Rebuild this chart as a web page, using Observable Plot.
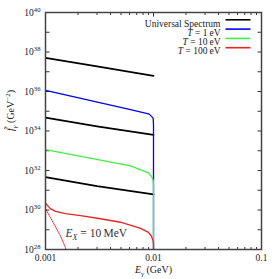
<!DOCTYPE html>
<html><head><meta charset="utf-8">
<script src="https://cdn.jsdelivr.net/npm/d3@7"></script>
<script src="https://cdn.jsdelivr.net/npm/@observablehq/plot@0.6"></script>
<style>html,body{margin:0;padding:0;background:#fff;}</style>
</head><body><div id="chart"></div>
<script>
// ---- tick data ----
const xTicksMajor = [0.001, 0.01, 0.1];
const xTickLabels = ["0.001", "0.01", "0.1"];
const xTicksMinor = [0.002,0.003,0.004,0.005,0.006,0.007,0.008,0.009,0.02,0.03,0.04,0.05,0.06,0.07,0.08,0.09];
const yTicks = [1e28,1e29,1e30,1e31,1e32,1e33,1e34,1e35,1e36,1e37,1e38,1e39,1e40];
const yLabelTicks = [1e28,1e30,1e32,1e34,1e36,1e38,1e40];

// ---- series data (E in GeV, f in GeV^-2) ----
const universalE = [0.001, 0.003, 0.01];
const universalF1 = [5.1e37, 1.86e37, 6.2e36];
const universalF2 = [4.8e34, 1.7e34, 6.3e33];
const universalF3 = [4.6e31, 1.6e31, 6.2e30];

const blueE = [0.001, 0.00612, 0.00899, 0.00938, 0.00968, 0.00993, 0.01, 0.01];
const blueF = [1.14e36, 1.2e35, 7.4e34, 6.2e34, 5.2e34, 4.4e34, 2.0e34, 1e26];

const greenE = [0.001, 0.00612, 0.00899, 0.00938, 0.00968, 0.00993, 0.01, 0.01];
const greenF = [1.14e33, 1.7e32, 7.6e31, 5.75e31, 4.5e31, 3.2e31, 2.0e31, 1e26];

const redE = [0.001, 0.00111, 0.00124, 0.00153, 0.00211, 0.00323, 0.00494, 0.00759, 0.00899, 0.00957, 0.00989, 0.01, 0.01];
const redF = [2.2e30, 1.17e30, 8.5e29, 6.6e29, 5.2e29, 3.6e29, 2.4e29, 1.17e29, 7.4e28, 4.7e28, 2.9e28, 2.0e28, 1e26];

const dotE = [0.001, 0.00111, 0.00124, 0.00138, 0.00153, 0.00157];
const dotF = [1.17e30, 4.2e29, 1.38e29, 4.7e28, 1.26e28, 6.3e27];

const legendLabels = ["Universal Spectrum", "T = 1 eV", "T = 10 eV", "T = 100 eV"];
const legendColors = ["#000000", "#0000ff", "#44ee44", "#ee2222"];
const annotLabel = "E_X = 10 MeV";
const annotE = 0.00153, annotF = 6.6e28;
const xLabel = "E_γ (GeV)";
const yLabel = "f_γ (GeV^-2)";

const pts = (E, F) => E.map((e, i) => ({E: e, f: F[i]}));
const lineShape = {draw(ctx, l) { ctx.moveTo(0, 0); ctx.lineTo(0, -l); }};
const tickCol = "#333";
const legFs = 9.5;

const marks = [
  Plot.axisX({ticks: xTicksMajor, tickSize: 0, tickPadding: 5, label: null,
    tickFormat: d => xTickLabels[xTicksMajor.indexOf(d)], fill: "#222"}),
  Plot.axisY({ticks: yLabelTicks, tickSize: 0, tickPadding: 5, label: null,
    tickFormat: d => "10^" + Math.round(Math.log10(d)), fill: "#222"}),
  // ticks, inward
  Plot.vector(yTicks, {y: d => d, frameAnchor: "left", rotate: 90, length: 4, anchor: "start", shape: lineShape, stroke: tickCol, strokeWidth: 1, strokeLinecap: "butt"}),
  Plot.vector(yTicks, {y: d => d, frameAnchor: "right", rotate: -90, length: 4, anchor: "start", shape: lineShape, stroke: tickCol, strokeWidth: 1, strokeLinecap: "butt"}),
  Plot.vector(xTicksMajor, {x: d => d, frameAnchor: "bottom", rotate: 0, length: 4, anchor: "start", shape: lineShape, stroke: tickCol, strokeWidth: 1, strokeLinecap: "butt"}),
  Plot.vector(xTicksMajor, {x: d => d, frameAnchor: "top", rotate: 180, length: 4, anchor: "start", shape: lineShape, stroke: tickCol, strokeWidth: 1, strokeLinecap: "butt"}),
  Plot.vector(xTicksMinor, {x: d => d, frameAnchor: "bottom", rotate: 0, length: 2.5, anchor: "start", shape: lineShape, stroke: tickCol, strokeWidth: 1, strokeLinecap: "butt"}),
  Plot.vector(xTicksMinor, {x: d => d, frameAnchor: "top", rotate: 180, length: 2.5, anchor: "start", shape: lineShape, stroke: tickCol, strokeWidth: 1, strokeLinecap: "butt"}),
  // series
  Plot.line(pts(universalE, universalF1), {x: "E", y: "f", stroke: "#000", strokeWidth: 1.8, clip: true}),
  Plot.line(pts(universalE, universalF2), {x: "E", y: "f", stroke: "#000", strokeWidth: 1.8, clip: true}),
  Plot.line(pts(universalE, universalF3), {x: "E", y: "f", stroke: "#000", strokeWidth: 1.8, clip: true}),
  Plot.line(pts(blueE, blueF), {x: "E", y: "f", stroke: legendColors[1], strokeWidth: 1.3, clip: true}),
  Plot.line(pts(greenE, greenF), {x: "E", y: "f", stroke: legendColors[2], strokeWidth: 1.3, clip: true}),
  Plot.line(pts(redE, redF), {x: "E", y: "f", stroke: legendColors[3], strokeWidth: 1.3, clip: true}),
  Plot.line(pts(dotE, dotF), {x: "E", y: "f", stroke: legendColors[3], strokeWidth: 1, strokeDasharray: "1,1", clip: true}),
  Plot.frame({stroke: "#444", strokeWidth: 1.5}),
  // annotation
  Plot.text([annotLabel], {x: () => annotE, y: () => annotF, text: d => d, textAnchor: "start", fontSize: 11.5, fill: "#333"}),
  // axis titles
  Plot.text([xLabel], {frameAnchor: "bottom", dy: 23, text: d => d, fontSize: 10, fill: "#222"}),
  Plot.text([yLabel], {frameAnchor: "left", dx: -35, rotate: -90, text: d => d, fontSize: 10, fill: "#222"})
];
legendLabels.forEach((lab, i) => {
  marks.push(Plot.text([lab], {frameAnchor: "top-right", dx: -41, dy: 7.3 + 9.3 * i, text: d => d, textAnchor: "end", fontSize: legFs, fill: "#222"}));
  marks.push(Plot.vector([lab], {frameAnchor: "top-right", dx: -36, dy: 7.3 + 9.3 * i, rotate: 90, length: 25, anchor: "start", shape: lineShape, stroke: legendColors[i], strokeWidth: 1.6, strokeLinecap: "butt"}));
});

const svg = Plot.plot({
  width: 279, height: 279,
  marginLeft: 45, marginRight: 18, marginTop: 12, marginBottom: 30,
  x: {type: "log", domain: [1e-3, 1e-1]},
  y: {type: "log", domain: [1e28, 1e40]},
  style: {fontFamily: "'Liberation Serif', serif", fontSize: "9.5px", background: "#fff", color: "#222"},
  marks
});
document.getElementById("chart").appendChild(svg);

// ---- rich text (italics, sub/superscripts) ----
function setRich(el, parts, fs) {
  const t = d3.select(el);
  t.text(null);
  let shift = 0;
  for (const p of parts) {
    const s = t.append("tspan").text(p.t);
    const target = p.sub ? fs * 0.3 : p.sup ? -fs * 0.42 : 0;
    if (target !== shift) { s.attr("dy", target - shift); shift = target; }
    if (p.sub || p.sup) s.attr("font-size", fs * 0.7);
    if (p.i) s.attr("font-style", "italic");
  }
}
const richMap = {
  [annotLabel]: [[{t: "E", i: 1}, {t: "X", i: 1, sub: 1}, {t: " = 10\u2009MeV"}], 11.5],
  [xLabel]: [[{t: "E", i: 1}, {t: "γ", i: 1, sub: 1}, {t: " (GeV)"}], 10],
  [yLabel]: [[{t: "f\u0303", i: 1}, {t: "γ", i: 1, sub: 1}, {t: " (GeV"}, {t: "−2", sup: 1}, {t: ")"}], 10],
  "T = 1 eV": [[{t: "T", i: 1}, {t: " = 1\u2009eV"}], legFs],
  "T = 10 eV": [[{t: "T", i: 1}, {t: " = 10\u2009eV"}], legFs],
  "T = 100 eV": [[{t: "T", i: 1}, {t: " = 100\u2009eV"}], legFs]
};
svg.querySelectorAll("text").forEach(el => {
  const s = el.textContent;
  const m = /^10\^(\d+)$/.exec(s);
  if (m) setRich(el, [{t: "10"}, {t: m[1], sup: 1}], 9.5);
  else if (richMap[s]) setRich(el, richMap[s][0], richMap[s][1]);
});
</script>
</body></html>
